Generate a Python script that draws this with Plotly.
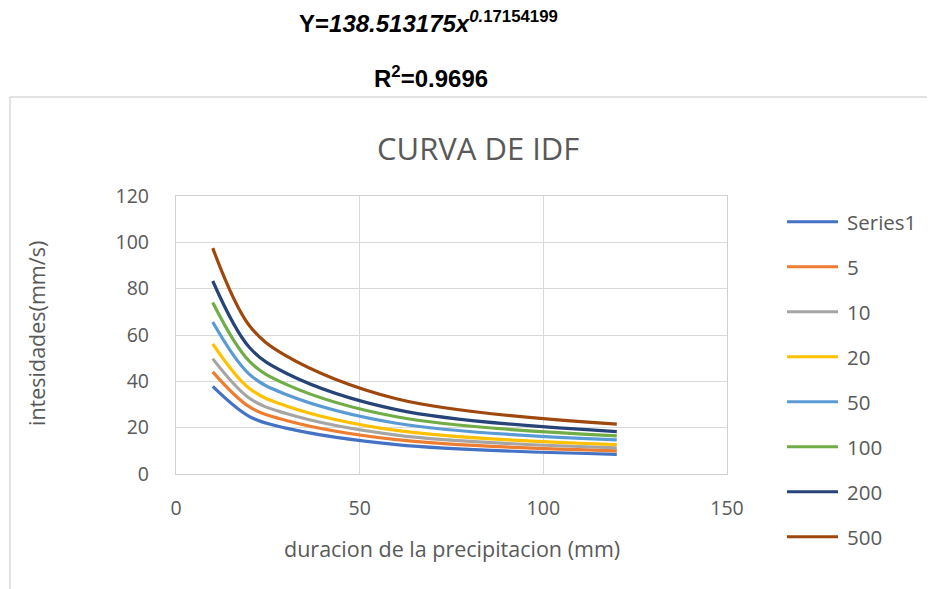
import plotly.graph_objects as go

# ---- data ----
durations = [10, 20, 30, 60, 120]
series_names = ["Series1", "5", "10", "20", "50", "100", "200", "500"]
s_series1 = [37.8, 24.8, 19.8, 12.7, 8.5]
s_5 = [44.1, 29.0, 23.1, 14.8, 10.0]
s_10 = [49.8, 32.7, 26.1, 16.8, 11.3]
s_20 = [56.2, 36.9, 29.4, 18.8, 12.7]
s_50 = [65.6, 43.0, 34.3, 21.9, 14.7]
s_100 = [74.0, 48.6, 38.7, 24.7, 16.5]
s_200 = [83.3, 54.6, 43.5, 27.8, 18.3]
s_500 = [97.5, 64.0, 51.0, 32.5, 21.5]
series_values = [s_series1, s_5, s_10, s_20, s_50, s_100, s_200, s_500]
x_ticks = [0, 50, 100, 150]
y_ticks = [0, 20, 40, 60, 80, 100, 120]

colors = ["#4472C4", "#ED7D31", "#A5A5A5", "#FFC000",
          "#5B9BD5", "#70AD47", "#264478", "#9E480E"]

W, H = 935, 589          # page size
O = 8                    # page body margin offset
L, R, T, B = 176, 727, 196, 474   # plot area in page pixels
pw, ph = R - L, B - T

def px(x):
    return (x - L) / pw

def py(y):
    return (B - y) / ph

FONT = "'Open Sans', Lato, sans-serif"
GREY = "#595959"

fig = go.Figure()
for name, vals, c in zip(series_names, series_values, colors):
    fig.add_trace(go.Scatter(
        x=durations, y=vals, name=name, mode="lines",
        line=dict(color=c, width=3.2, shape="spline", smoothing=1.0),
        showlegend=False))

shapes = []
annotations = []

# chart-area border (top and left visible)
shapes.append(dict(type="line", xref="paper", yref="paper",
                   x0=px(10), y0=py(97), x1=px(W + 20), y1=py(97),
                   line=dict(color="#D9D9D9", width=1.5)))
shapes.append(dict(type="line", xref="paper", yref="paper",
                   x0=px(10), y0=py(97), x1=px(10), y1=py(H + 20),
                   line=dict(color="#D9D9D9", width=1.5)))

# manual legend
leg_y0, leg_dy = 221.7, 45
for i, (name, c) in enumerate(zip(series_names, colors)):
    yy = leg_y0 + i * leg_dy
    shapes.append(dict(type="line", xref="paper", yref="paper",
                       x0=px(787), x1=px(838), y0=py(yy), y1=py(yy),
                       line=dict(color=c, width=3)))
    annotations.append(dict(xref="paper", yref="paper", x=px(845), y=py(yy),
                            text=name, showarrow=False, xanchor="left",
                            yanchor="middle",
                            font=dict(family=FONT, size=20.5, color=GREY)))

# equation texts above chart
EQF = "'Liberation Sans', Arial, sans-serif"
annotations.append(dict(xref="paper", yref="paper", x=px(428), y=py(22),
                        text="<b>Y=<i>138.513175x</i><sup><i>0.</i>17154199</sup></b>",
                        showarrow=False, xanchor="center", yanchor="middle",
                        font=dict(family=EQF, size=24, color="#000000")))
annotations.append(dict(xref="paper", yref="paper", x=px(431), y=py(77),
                        text="<b>R<sup>2</sup>=0.9696</b>",
                        showarrow=False, xanchor="center", yanchor="middle",
                        font=dict(family=EQF, size=24, color="#000000")))
# chart title
annotations.append(dict(xref="paper", yref="paper", x=px(478), y=py(148),
                        text="CURVA DE IDF", showarrow=False,
                        xanchor="center", yanchor="middle",
                        font=dict(family=FONT, size=31, color=GREY)))
# axis titles
annotations.append(dict(xref="paper", yref="paper", x=px(452), y=py(548),
                        text="duracion de la precipitacion (mm)", showarrow=False,
                        xanchor="center", yanchor="middle",
                        font=dict(family=FONT, size=21.5, color=GREY)))
annotations.append(dict(xref="paper", yref="paper", x=px(36), y=py(334),
                        text="intesidades(mm/s)", showarrow=False, textangle=-90,
                        xanchor="center", yanchor="middle",
                        font=dict(family=FONT, size=21.5, color=GREY)))

fig.update_layout(
    width=W - O, height=H - O,
    margin=dict(l=L - O, r=W - R, t=T - O, b=H - B, pad=0),
    paper_bgcolor="white", plot_bgcolor="white",
    shapes=shapes, annotations=annotations,
    font=dict(family=FONT, size=19, color=GREY),
)
fig.update_xaxes(range=[0, 150], tickvals=x_ticks, showgrid=True,
                 gridcolor="#D9D9D9", gridwidth=1.3, zeroline=False,
                 showline=True, linecolor="#D0D0D0", linewidth=1.3, mirror=True,
                 ticks="", ticklabelstandoff=16,
                 tickfont=dict(family=FONT, size=19.5, color=GREY))
fig.update_yaxes(range=[0, 120], tickvals=y_ticks, showgrid=True,
                 gridcolor="#D9D9D9", gridwidth=1.3, zeroline=False,
                 showline=True, linecolor="#D0D0D0", linewidth=1.3, mirror=True,
                 ticks="", ticklabelstandoff=22,
                 tickfont=dict(family=FONT, size=19.5, color=GREY))

fig.write_html("out.html")
